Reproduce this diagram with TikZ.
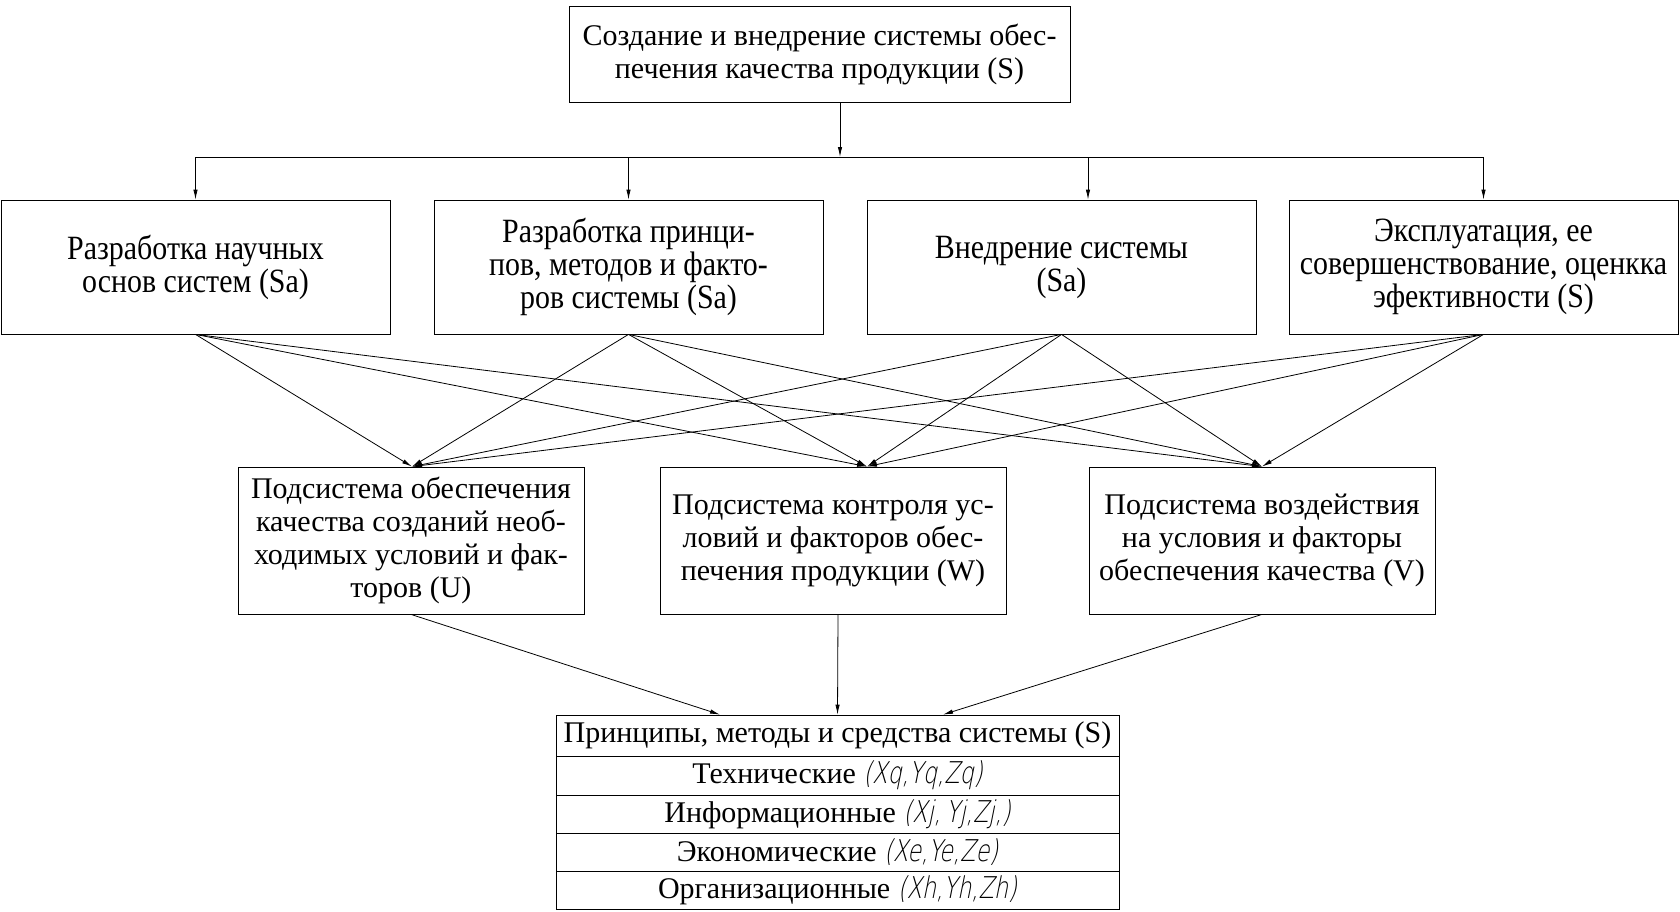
\documentclass[tikz,border=0pt]{standalone}
\usepackage{fontspec}
\setmainfont{Liberation Serif}
\newfontfamily\narrowfont[FakeStretch=0.88]{Liberation Serif}
\newfontfamily\gostfont[FakeSlant=0.2,FakeStretch=0.75]{DejaVu Sans ExtraLight}
\usetikzlibrary{arrows.meta,calc}

\begin{document}
\begin{tikzpicture}[
    x=0.5pt, y=-0.5pt,
    font=\fontsize{15}{16.5}\selectfont,
    box/.style={draw, inner sep=0pt, align=center},
    tip/.style={-{Latex[length=5pt,width=2.2pt]}},
    ]
  \useasboundingbox (0,0) rectangle (1680,911);

  \node[box, minimum width=250.5pt, minimum height=48pt] (s) at (819.5,54)
    {Создание и внедрение системы обес-\\печения качества продукции (S)};

  \foreach \n/\x/\t in {
      sa/195.5/{Разработка научных\\основ систем (Sa)},
      sb/628.5/{Разработка принци-\\пов, методов и факто-\\ров системы (Sa)},
      sc/1061.5/{Внедрение системы\\(Sa)},
      sd/1483.5/{Эксплуатация, ее\\совершенствование, оценкка\\эфективности (S)}}
    \node[box, minimum width=194.5pt, minimum height=67pt,
          font=\narrowfont\fontsize{17}{16.5}\selectfont] (\n) at (\x,267) {\t};

  \coordinate (bus) at (840,157);
  \draw[tip] (s.south -| bus) -- (bus);
  \draw (sa.north |- bus) -- (sd.north |- bus);
  \foreach \n/\dx in {sa/0, sb/0, sc/26.5, sd/0}
    \draw[tip] ($(\n.north |- bus)+(\dx,0)$) -- ($(\n.north)+(\dx,0)$);

  \foreach \n/\x/\t in {
      u/411/{Подсистема обеспечения\\качества созданий необ-\\ходимых условий и фак-\\торов (U)},
      w/833/{Подсистема контроля ус-\\ловий и факторов обес-\\печения продукции (W)},
      v/1262/{Подсистема воздействия\\на условия и факторы\\обеспечения качества (V)}}
    \node[box, minimum width=173pt, minimum height=73.5pt] (\n) at (\x,540.5) {\t};

  \foreach \a in {sa,sb,sc,sd}
    \foreach \b/\dx in {u/1, w/34, v/0}
      \draw[tip] (\a.south) -- ($(\b.north)+(\dx,0)$);

  \foreach \n/\y/\h/\t in {
      p0/735.5/20.5/{Принципы, методы и средства системы (S)},
      p1/775.5/19.5/{Технические {\gostfont (Xq,Yq,Zq)}},
      p2/814/19/{Информационные {\gostfont (Xj,\,Yj,Zj,)}},
      p3/852/19/{Экономические {\gostfont (Xe,Ye,Ze)}},
      p4/890/19/{Организационные {\gostfont (Xh,Yh,Zh)}}}
    \node[box, minimum width=281.5pt, minimum height=\h pt] (\n) at (837.5,\y) {\t};

  \draw[tip] (u.south) -- ($(p0.north)+(-117.5,0)$);
  \draw[tip] ($(w.south)+(5,0)$) -- (p0.north);
  \draw[tip] (v.south) -- ($(p0.north)+(105.5,0)$);
\end{tikzpicture}
\end{document}
